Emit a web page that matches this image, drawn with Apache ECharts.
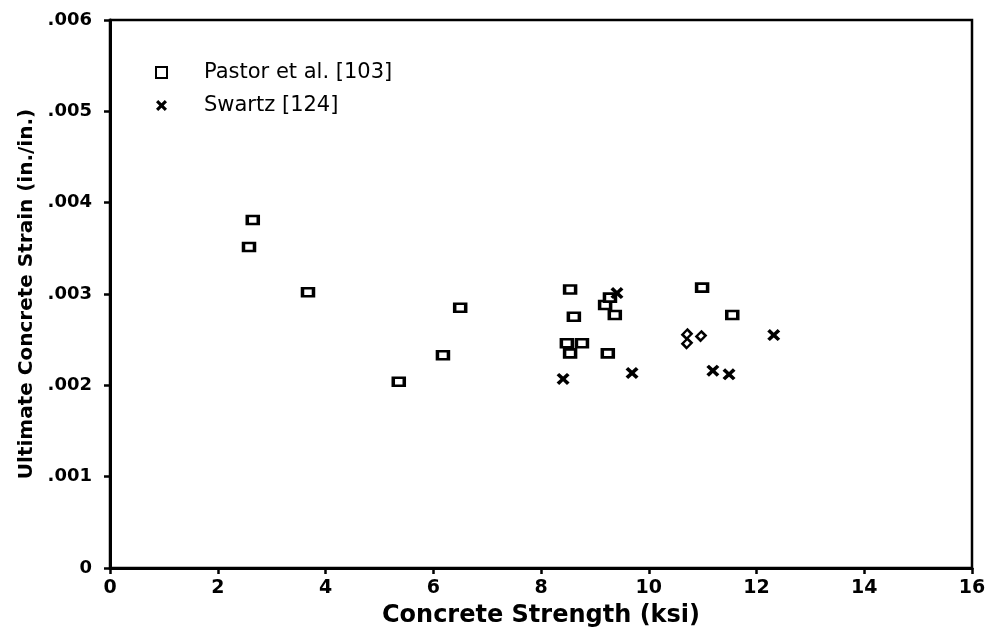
<!DOCTYPE html>
<html>
<head>
<meta charset="utf-8">
<script src="https://cdn.jsdelivr.net/npm/echarts@6/dist/echarts.min.js"></script>
<style>html,body{margin:0;padding:0;background:#fff}#c{width:990px;height:630px}</style>
</head>
<body>
<div id="c"></div>
<script>
// Concrete strength (ksi), ultimate strain (in./in.)
const pastorX = [2.58, 2.65, 3.675, 5.36, 6.18, 6.50, 8.54, 8.61, 8.48, 8.76, 8.54, 9.24, 9.19, 9.37, 9.28, 10.99, 11.55];
const pastorY = [0.003515, 0.00381, 0.00302, 0.00204, 0.00233, 0.00285, 0.00305, 0.00275, 0.00246, 0.00246, 0.00235, 0.00235, 0.00288, 0.00277, 0.00296, 0.00307, 0.00277];
const pastorRotX = [10.71, 10.97, 10.71];
const pastorRotY = [0.00256, 0.00254, 0.00246];
const swartzX = [8.41, 9.41, 9.69, 11.19, 11.49, 12.32];
const swartzY = [0.00207, 0.00301, 0.002135, 0.00216, 0.00212, 0.00255];
const xTicks = [0, 2, 4, 6, 8, 10, 12, 14, 16];
const yTicks = [0, 0.001, 0.002, 0.003, 0.004, 0.005, 0.006];
const seriesNames = ['Pastor et al. [103]', 'Swartz [124]'];

const zip = (a, b) => a.map((v, i) => [v, b[i]]);
const xPath = 'path://M0,2L2,0L5,3L8,0L10,2L7,5L10,8L8,10L5,7L2,10L0,8L3,5Z';
const F = '"DejaVu Sans", Verdana, sans-serif';

const chart = echarts.init(document.getElementById('c'));
chart.setOption({
  animation: false,
  backgroundColor: '#fff',
  grid: { left: 110, right: 18, top: 20, bottom: 62, outerBoundsMode: 'none', containLabel: false, show: true, borderColor: '#000', borderWidth: 2.5, backgroundColor: 'transparent' },
  legend: {
    orient: 'vertical', left: 150, top: 57, itemGap: 12,
    itemWidth: 11, itemHeight: 11,
    textStyle: { fontFamily: F, fontSize: 21, color: '#000', padding: [0, 0, 0, 32] },
    data: [
      { name: seriesNames[0], icon: 'rect', itemStyle: { color: '#fff', borderColor: '#000', borderWidth: 2 } },
      { name: seriesNames[1], icon: xPath, itemStyle: { color: '#000', borderWidth: 0 } }
    ]
  },
  xAxis: {
    type: 'value', min: xTicks[0], max: xTicks[xTicks.length - 1], interval: 2,
    name: 'Concrete Strength (ksi)', nameLocation: 'middle', nameGap: 36,
    nameTextStyle: { fontFamily: F, fontWeight: 'bold', fontSize: 24, color: '#000' },
    axisLine: { lineStyle: { color: '#000', width: 3 } },
    axisTick: { length: 6, lineStyle: { color: '#000', width: 2.5 } },
    axisLabel: { fontFamily: F, fontWeight: 'bold', fontSize: 19, color: '#000', margin: 11 },
    splitLine: { show: false }
  },
  yAxis: {
    type: 'value', min: yTicks[0], max: yTicks[yTicks.length - 1], interval: 0.001,
    name: 'Ultimate Concrete Strain (in./in.)', nameLocation: 'middle', nameGap: 70, nameRotate: 90,
    nameTextStyle: { fontFamily: F, fontWeight: 'bold', fontSize: 20, color: '#000' },
    axisLine: { lineStyle: { color: '#000', width: 3 } },
    axisTick: { length: 6, lineStyle: { color: '#000', width: 2.5 } },
    axisLabel: {
      fontFamily: F, fontWeight: 'bold', fontSize: 18, color: '#000', margin: 18,
      formatter: v => { const n = Math.round(v * 1000); return n === 0 ? '0' : '.00' + n; }
    },
    splitLine: { show: false }
  },
  series: [
    {
      name: seriesNames[0], type: 'scatter', data: zip(pastorX, pastorY),
      symbol: 'rect', symbolSize: [11, 8],
      itemStyle: { color: '#fff', borderColor: '#000', borderWidth: 3, opacity: 1 }
    },
    {
      name: seriesNames[0], type: 'scatter', data: zip(pastorRotX, pastorRotY),
      symbol: 'rect', symbolSize: [7, 6], symbolRotate: 45,
      itemStyle: { color: '#fff', borderColor: '#000', borderWidth: 2.5, opacity: 1 }
    },
    {
      name: seriesNames[1], type: 'scatter', data: zip(swartzX, swartzY),
      symbol: xPath, symbolSize: [13, 12],
      itemStyle: { color: '#000', opacity: 1 }
    }
  ]
});
</script>
</body>
</html>
